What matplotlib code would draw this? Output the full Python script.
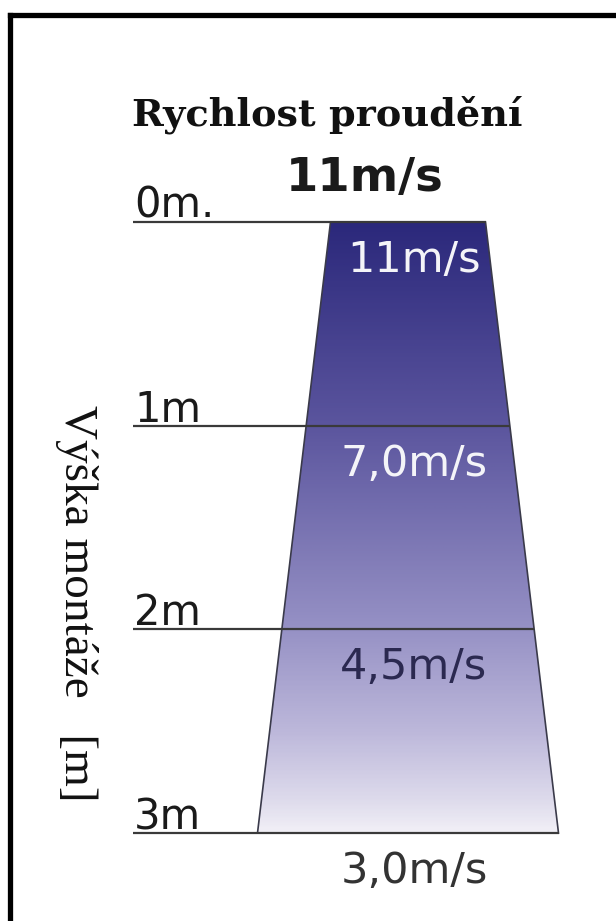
"""
Mounting height vs. airflow speed: trapezoid schematic (Czech labels).
"""

import numpy as np
import matplotlib.pyplot as plt
from matplotlib.colors import LinearSegmentedColormap
from matplotlib.patches import Polygon
from matplotlib.lines import Line2D

# --- Data ---
heights      = [0, 1, 2, 3]                 # mounting height (m)
level_labels = ["0m.", "1m", "2m", "3m"]
speeds       = [11, 7.0, 4.5, 3.0]          # airflow speed (m/s)
speed_labels = ["11m/s", "7,0m/s", "4,5m/s", "3,0m/s"]

TITLE      = "Rychlost proudění"
HEADLINE   = "11m/s"
AXIS_LABEL = "Výška montáže   [m]"

# --- Geometry (figure is laid out in px along x, metres along y) ---
W, H      = 616, 921
PX_PER_M  = (833 - 222) / 3
TOP_PX    = 222
CENTER_X  = 408
HALF_TOP  = 77.5      # half width of the trapezoid at 0 m
HALF_BOT  = 150.5     # half width at 3 m
LINE_X0   = 133

# gradient stops (height in m -> colour)
grad_stops = [(0.0, "#2b287b"), (1.0, "#5b559e"), (2.0, "#9691c5"),
              (2.5, "#bcb7da"), (2.85, "#dedbec"), (3.0, "#f1eff6")]

speed_colors = ["#f4f4f8", "#f4f4f8", "#2b2950", "#333333"]


def half_width(h):
    return HALF_TOP + (HALF_BOT - HALF_TOP) * h / heights[-1]


fig = plt.figure(figsize=(W / 100, H / 100), dpi=100)
ax = fig.add_axes([0, 0, 1, 1])
ax.set_xlim(0, W)
ax.set_ylim(3 + (H - 833) / PX_PER_M, -TOP_PX / PX_PER_M)
ax.axis("off")

# trapezoid with vertical gradient
h0, h1 = heights[0], heights[-1]
corners = [(CENTER_X - half_width(h0), h0), (CENTER_X + half_width(h0), h0),
           (CENTER_X + half_width(h1), h1), (CENTER_X - half_width(h1), h1)]
cmap = LinearSegmentedColormap.from_list(
    "flow", [(s / h1, c) for s, c in grad_stops])
grad = np.linspace(0, 1, 400).reshape(-1, 1)
img = ax.imshow(grad, cmap=cmap, aspect="auto", interpolation="bilinear",
                extent=(CENTER_X - half_width(h1), CENTER_X + half_width(h1), h1, h0),
                zorder=1)
trap = Polygon(corners, closed=True, facecolor="none", edgecolor="#3a3a4a",
               linewidth=1.2, zorder=3)
ax.add_patch(trap)
img.set_clip_path(trap)

# level lines + labels
for h, lab in zip(heights, level_labels):
    ax.plot([LINE_X0, CENTER_X + half_width(h)], [h, h], color="#3a3a3a",
            lw=1.6, solid_capstyle="butt", zorder=4)
    ax.text(LINE_X0 + 1, h - 4 / PX_PER_M, lab, fontsize=30, color="#1a1a1a",
            family="DejaVu Sans", ha="left", va="baseline", zorder=5)

# speed labels inside / below the trapezoid
for h, lab, col in zip(heights, speed_labels, speed_colors):
    ax.text(414, h + 50 / PX_PER_M, lab, fontsize=31, color=col,
            family="DejaVu Sans", ha="center", va="baseline", zorder=5)

# title and headline speed
ax.text(327, (126 - TOP_PX) / PX_PER_M, TITLE, fontsize=27.5, fontweight="bold",
        family="DejaVu Serif", color="#111111", ha="center", va="baseline")
ax.text(365, (191 - TOP_PX) / PX_PER_M, HEADLINE, fontsize=33.5, fontweight="bold",
        family="DejaVu Sans", color="#1a1a1a", ha="center", va="baseline")

# vertical axis label
ax.text(76, (603 - TOP_PX) / PX_PER_M, AXIS_LABEL, fontsize=34, rotation=270,
        family="Liberation Serif", color="#111111", ha="center", va="center",
        rotation_mode="anchor")

# black frame (top and left edges only are in view)
fig.add_artist(Line2D([10 / W, 1], [1 - 15 / H, 1 - 15 / H], color="black",
                      lw=3.8, transform=fig.transFigure))
fig.add_artist(Line2D([10 / W, 10 / W], [0, 1 - 15 / H], color="black",
                      lw=3.8, transform=fig.transFigure))

fig.savefig("out.png", dpi=100)
